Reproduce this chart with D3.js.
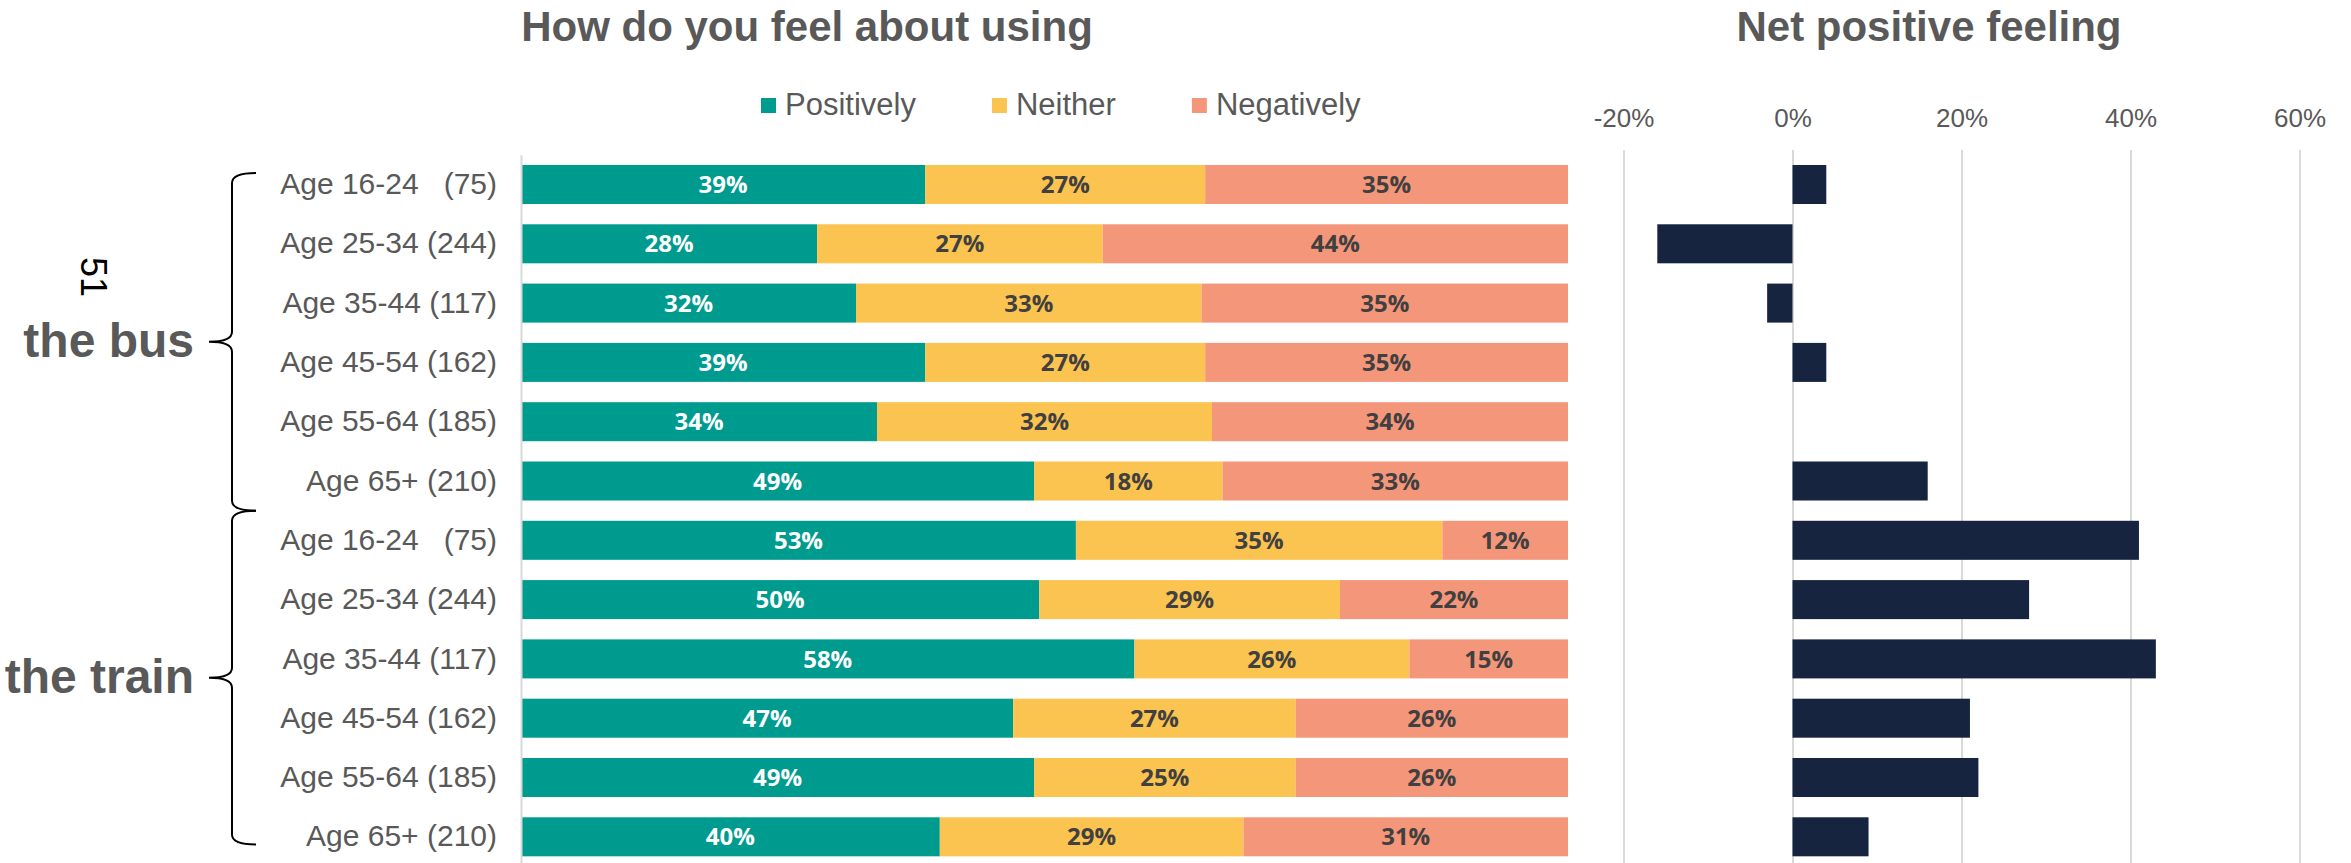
<!DOCTYPE html>
<html lang="en">
<head>
  <meta charset="UTF-8">
  <title>How do you feel about using</title>
  <script src="https://d3js.org/d3.v7.min.js"></script>
  <style>
    body { margin: 0; background: #fff; }
    text { font-family: "Liberation Sans", Arial, sans-serif; }
  </style>
</head>
<body>
  <div id="my_dataviz"></div>
  <script>
    // Data
    var rowLabels = [
      "Age 16-24   (75)", "Age 25-34 (244)", "Age 35-44 (117)", "Age 45-54 (162)", "Age 55-64 (185)", "Age 65+ (210)",
      "Age 16-24   (75)", "Age 25-34 (244)", "Age 35-44 (117)", "Age 45-54 (162)", "Age 55-64 (185)", "Age 65+ (210)"
    ];
    var groups = ["the bus", "the train"];
    var seriesNames = ["Positively", "Neither", "Negatively"];
    var positively = [39, 28, 32, 39, 34, 49, 53, 50, 58, 47, 49, 40];
    var neither    = [27, 27, 33, 27, 32, 18, 35, 29, 26, 27, 25, 29];
    var negatively = [35, 44, 35, 35, 34, 33, 12, 22, 15, 26, 26, 31];
    var netPositive = [4, -16, -3, 4, 0, 16, 41, 28, 43, 21, 22, 9];
    var netTicks = [-20, 0, 20, 40, 60];

    var colors = ["#009B8F", "#FBC34F", "#F4967A"];
    var labelColors = ["#ffffff", "#404040", "#404040"];
    var grey = "#595959";

    var W = 2351, H = 863;
    var svg = d3.select("#my_dataviz")
      .append("svg")
        .attr("width", W)
        .attr("height", H);

    // rows, one table per row for the stack
    var rows = rowLabels.map(function(l, i) {
      return {idx: i, Positively: positively[i], Neither: neither[i], Negatively: negatively[i]};
    });

    // shared y scale
    var y = d3.scaleBand()
      .domain(d3.range(rowLabels.length))
      .range([154.85, 866.45])
      .paddingInner(0.342)
      .paddingOuter(0.171);

    // ---------- left chart: 100% stacked bars ----------
    var x = d3.scaleLinear().domain([0, 1]).range([521, 1568]);

    var stack = d3.stack().keys(seriesNames).offset(d3.stackOffsetExpand);
    var layers = stack(rows);

    var layer = svg.selectAll("g.layer")
      .data(layers)
      .enter().append("g")
        .attr("class", "layer")
        .attr("fill", function(d, i) { return colors[i]; });

    layer.selectAll("rect")
      .data(function(d) { return d; })
      .enter().append("rect")
        .attr("x", function(d) { return x(d[0]); })
        .attr("y", function(d) { return y(d.data.idx); })
        .attr("width", function(d) { return x(d[1]) - x(d[0]); })
        .attr("height", y.bandwidth());

    layer.selectAll("text")
      .data(function(d, i) { return d.map(function(p) { return {p: p, s: i}; }); })
      .enter().append("text")
        .attr("x", function(d) { return (x(d.p[0]) + x(d.p[1])) / 2; })
        .attr("y", function(d) { return y(d.p.data.idx) + y.bandwidth() / 2; })
        .attr("dy", "0.36em")
        .attr("text-anchor", "middle")
        .style("font-family", "'Open Sans', sans-serif")
        .style("font-weight", "bold")
        .style("font-size", "24px")
        .attr("fill", function(d) { return labelColors[d.s]; })
        .text(function(d) { return d.p.data[seriesNames[d.s]] + "%"; });

    // y axis with row labels
    var yAxis = svg.append("g")
      .attr("transform", "translate(521,0)")
      .call(d3.axisLeft(y).tickSize(0).tickPadding(24)
        .tickFormat(function(i) { return rowLabels[i]; }));
    yAxis.select(".domain").attr("stroke", "#d9d9d9").attr("stroke-width", 2);
    yAxis.selectAll("text")
      .style("font-family", "'Liberation Sans', Arial, sans-serif")
      .style("font-size", "30px")
      .style("white-space", "pre")
      .attr("fill", grey);

    // title
    svg.append("text")
      .attr("x", 807).attr("y", 41)
      .attr("text-anchor", "middle")
      .style("font-size", "42px").style("font-weight", "bold")
      .attr("fill", grey)
      .text("How do you feel about using");

    // legend
    var lx = 761;
    seriesNames.forEach(function(name, i) {
      svg.append("rect")
        .attr("x", lx).attr("y", 98).attr("width", 15).attr("height", 15)
        .attr("fill", colors[i]);
      var t = svg.append("text")
        .attr("x", lx + 24).attr("y", 115)
        .style("font-size", "31px")
        .attr("fill", grey)
        .text(name);
      lx += 24 + t.node().getComputedTextLength() + 76;
    });

    // group braces and labels
    var step = y.step(), bw = y.bandwidth();
    var braces = [
      {top: y(0) + 8, bottom: y(5) + bw + (step - bw) / 2, label: groups[0]},
      {top: y(5) + bw + (step - bw) / 2, bottom: y(11) + bw * 0.7, label: groups[1]}
    ];
    var tipX = 256, stemX = 232, midX = 209, r = 10;
    braces.forEach(function(b) {
      var mid = (b.top + b.bottom) / 2;
      var p = d3.path();
      p.moveTo(tipX, b.top);
      p.quadraticCurveTo(stemX, b.top, stemX, b.top + r);
      p.lineTo(stemX, mid - r);
      p.quadraticCurveTo(stemX, mid, midX, mid);
      p.quadraticCurveTo(stemX, mid, stemX, mid + r);
      p.lineTo(stemX, b.bottom - r);
      p.quadraticCurveTo(stemX, b.bottom, tipX, b.bottom);
      svg.append("path")
        .attr("d", p.toString())
        .attr("fill", "none")
        .attr("stroke", "#000")
        .attr("stroke-width", 2);
      svg.append("text")
        .attr("x", 194).attr("y", mid + 15)
        .attr("text-anchor", "end")
        .style("font-size", "48px").style("font-weight", "bold")
        .attr("fill", grey)
        .text(b.label);
    });

    // stray rotated label
    svg.append("text")
      .attr("transform", "translate(94,277) rotate(90)")
      .attr("text-anchor", "middle")
      .attr("dy", "0.35em")
      .style("font-size", "36px")
      .attr("fill", "#000")
      .text("51");

    // ---------- right chart: net positive ----------
    var xn = d3.scaleLinear().domain([-20, 60]).range([1623.5, 2299.5]);

    var nAxis = svg.append("g")
      .attr("transform", "translate(0,150)")
      .call(d3.axisTop(xn).tickValues(netTicks)
        .tickSizeInner(-(H - 150)).tickSizeOuter(0).tickPadding(23)
        .tickFormat(function(d) { return d + "%"; }));
    nAxis.select(".domain").remove();
    nAxis.selectAll("line").attr("stroke", "#d9d9d9").attr("stroke-width", 2);
    nAxis.selectAll("text")
      .style("font-family", "'Liberation Sans', Arial, sans-serif")
      .style("font-size", "26px")
      .attr("fill", grey);

    svg.selectAll("rect.net")
      .data(netPositive)
      .enter().append("rect")
        .attr("class", "net")
        .attr("x", function(d) { return xn(Math.min(0, d)); })
        .attr("y", function(d, i) { return y(i); })
        .attr("width", function(d) { return Math.abs(xn(d) - xn(0)); })
        .attr("height", bw)
        .attr("fill", "#172440");

    svg.append("text")
      .attr("x", 1929).attr("y", 41)
      .attr("text-anchor", "middle")
      .style("font-size", "42px").style("font-weight", "bold")
      .attr("fill", grey)
      .text("Net positive feeling");
  </script>
</body>
</html>
